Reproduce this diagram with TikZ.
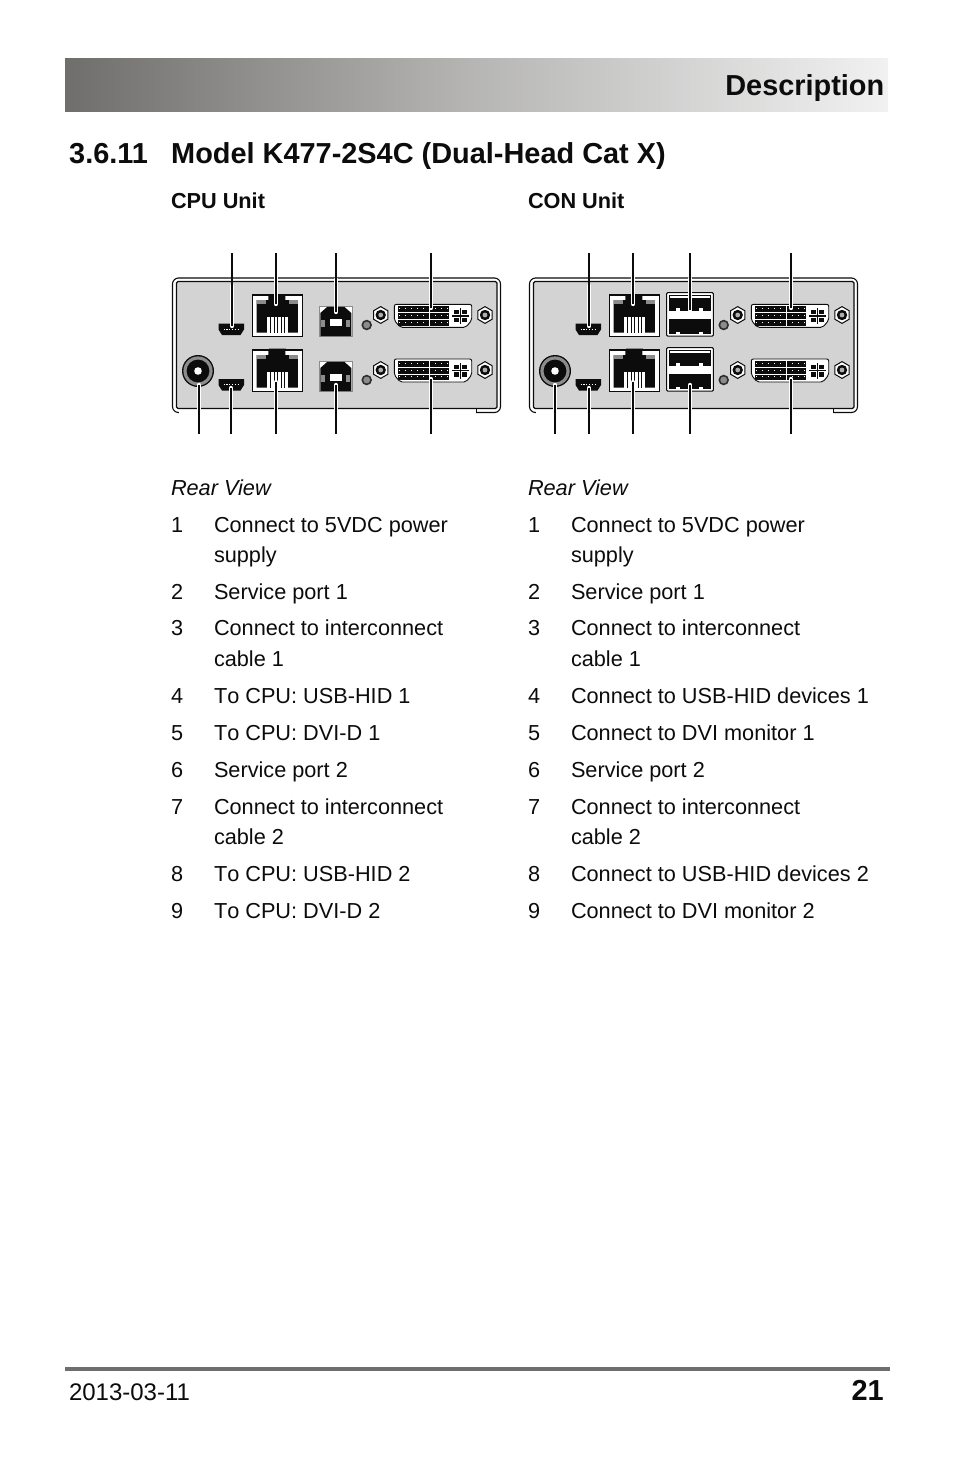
\documentclass[tikz,border=0pt]{standalone}
\usepackage{fontspec}
\setmainfont{Liberation Sans}
\usetikzlibrary{calc}
\definecolor{panelgray}{HTML}{D3D3D3}
\definecolor{midgray}{HTML}{8C8C8C}
\definecolor{ink}{HTML}{0C0C0C}
\definecolor{barleft}{HTML}{6F6E6C}
\definecolor{barright}{HTML}{F1F1F1}
\definecolor{rulegray}{HTML}{6E6E6E}
\newcommand{\bodyfont}{\fontsize{21.7}{26}\selectfont}
\newcommand{\headfont}{\fontsize{28.9}{34}\selectfont\bfseries}
\tikzset{
  txt/.style={anchor=base west,inner sep=0pt,outer sep=0pt,font=\bodyfont,text=ink},
  leader/.style={line width=2.1pt,draw=ink},
  halo/.style={line width=4.4pt,draw=white},
}
\newcommand{\itemrow}[5]{%
  \node[txt] (#1n) at (#2,#4) {#3};
  \node[txt] (#1t) at (#2+43,#4) {#5};}
\newcommand{\screwat}[2]{%
  \draw[line width=1pt,draw=ink,fill=white]
    (#1,#2-8.4) -- (#1+7.2,#2-4.2) -- (#1+7.2,#2+4.2) -- (#1,#2+8.4) -- (#1-7.2,#2+4.2) -- (#1-7.2,#2-4.2) -- cycle;
  \fill[ink] (#1,#2) circle[radius=5.2];
  \fill[midgray!70] (#1,#2) circle[radius=2.4];}
\newcommand{\ledat}[2]{\draw[line width=1.6pt,draw=ink!85,fill=midgray] (#1,#2) circle[radius=4.4];}
\newcommand{\jackat}[2]{%
  \fill[ink] (#1,#2) circle[radius=16];
  \fill[midgray] (#1,#2) circle[radius=14.6];
  \fill[ink] (#1,#2) circle[radius=11.4];
  \fill[white] (#1,#2) circle[radius=3.8];}
\newcommand{\miniat}[2]{% left x, top y
  \fill[ink] (#1,#2+1) -- (#1+25.5,#2+1) -- (#1+25.5,#2+7) -- (#1+22,#2+12.5) -- (#1+3.5,#2+12.5) -- (#1,#2+7) -- cycle;
  \draw[white,line width=1pt,dash pattern=on 1.2pt off 1.6pt] (#1+5,#2+6.5) -- (#1+21,#2+6.5);}
\newcommand{\rjat}[2]{% left x, top y
  \draw[line width=1.1pt,draw=ink,fill=white] (#1,#2) rectangle (#1+50.4,#2+41.5);
  \fill[ink] (#1+4.4,#2+5) -- (#1+16,#2+5) -- (#1+16,#2+1) -- (#1+33,#2+1) -- (#1+33,#2+5) -- (#1+45.6,#2+5)
     -- (#1+45.6,#2+37.5) -- (#1+4.4,#2+37.5) -- cycle;
  \fill[midgray] (#1+4.4,#2+5) rectangle (#1+13.5,#2+9);
  \fill[midgray] (#1+36.5,#2+5) rectangle (#1+45.6,#2+9);
  \fill[white] (#1+14.5,#2+21.5) rectangle (#1+36,#2+37.5);
  \foreach \k in {1,...,5} {\fill[ink] (#1+14.5+\k*3.6-.5,#2+21.5) rectangle ++(1,16);}}
\newcommand{\usbbat}[2]{% left x, top y
  \draw[line width=.8pt,draw=midgray,fill=white] (#1,#2) rectangle (#1+33,#2+30.5);
  \fill[ink] (#1+1,#2+30) -- (#1+1,#2+7) -- (#1+8,#2+.8) -- (#1+25,#2+.8) -- (#1+32,#2+7) -- (#1+32,#2+30) -- cycle;
  \fill[white] (#1+10.5,#2+13) rectangle (#1+23,#2+20);
  \fill[midgray] (#1+2,#2+14) rectangle (#1+6,#2+21);
  \fill[midgray] (#1+27,#2+14) rectangle (#1+31,#2+21);}
\newcommand{\usbaat}[2]{% left x, top y
  \draw[line width=1pt,draw=ink,fill=white,rounded corners=1pt] (#1,#2) rectangle (#1+46.6,#2+43.3);
  \fill[ink] (#1+2,#2+1.8) rectangle (#1+44.6,#2+18);
  \fill[white] (#1+3,#2+3.4) rectangle (#1+43.6,#2+5.2);
  \fill[white] (#1+2,#2+18) rectangle (#1+44.6,#2+26);
  \fill[ink] (#1+2,#2+26) rectangle (#1+44.6,#2+41.6);
  \fill[white] (#1+9.5,#2+15) rectangle (#1+13.5,#2+18);
  \fill[white] (#1+32.5,#2+15) rectangle (#1+36.5,#2+18);
  \fill[white] (#1+9.5,#2+39) rectangle (#1+13.5,#2+41.6);
  \fill[white] (#1+32.5,#2+39) rectangle (#1+36.5,#2+41.6);}
\newcommand{\dviat}[2]{% left x, top y
  \draw[line width=.9pt,draw=ink,fill=white,rounded corners=2pt]
     (#1,#2) -- (#1+77.4,#2) -- (#1+77.4,#2+16) -- (#1+71.5,#2+23) -- (#1+5.9,#2+23) -- (#1,#2+16) -- cycle;
  \foreach \r in {2,9,15.7} {
    \fill[ink] (#1+3.7,#2+\r) rectangle (#1+54.2,#2+\r+5.6);
    \draw[white,line width=.8pt,dash pattern=on 1pt off 5pt] (#1+5,#2+\r+2) -- (#1+54,#2+\r+2);
  }
  \fill[white] (#1+35,#2+2) rectangle (#1+35.9,#2+21.3);
  \fill[ink] (#1+59.5,#2+5.5) rectangle (#1+64.2,#2+9.8);
  \fill[ink] (#1+68,#2+5.5) rectangle (#1+72.7,#2+9.8);
  \fill[ink] (#1+59.5,#2+13.4) rectangle (#1+64.2,#2+17.7);
  \fill[ink] (#1+68,#2+13.4) rectangle (#1+72.7,#2+17.7);
  \fill[ink] (#1+65.4,#2+3.5) rectangle (#1+66.8,#2+19.5);
  \fill[ink] (#1+58,#2+10.9) rectangle (#1+74.5,#2+12.3);}
\newcommand{\panelbase}[1]{% x offset
  \draw[line width=1.1pt,draw=ink,fill=white,rounded corners=6pt]
     (#1+172.5,278) rectangle (#1+500.5,412.5);
  \fill[white] (#1+179,409) rectangle (#1+476,414);
  \draw[line width=1.1pt,draw=ink,fill=panelgray,rounded corners=1.5pt]
     (#1+176.5,281.5) rectangle (#1+497,408.5);
  \draw[line width=.8pt,draw=ink] (#1+476,408.5) -- (#1+476,412.5);
  \jackat{#1+198}{371}
  \miniat{#1+218.5}{322.5}
  \miniat{#1+218.5}{378}
  \rjat{#1+252.3}{295}
  \fill[midgray] (#1+269,348.3) rectangle (#1+285.5,350.5);
  \rjat{#1+252.3}{350}
  \ledat{#1+366.7}{325}
  \ledat{#1+366.7}{380}
  \screwat{#1+380.7}{315}
  \screwat{#1+380.7}{370}
  \screwat{#1+485}{315}
  \screwat{#1+485}{370}
  \dviat{#1+394.3}{304.3}
  \dviat{#1+394.3}{359}}
\newcommand{\leaderline}[4]{% name x, y outer, y tip
  \coordinate (#1a) at (#2,#3);
  \coordinate (#1b) at (#2,#4);
  \draw[halo,line cap=round] ($(#1a)!.45!(#1b)$) -- (#1b);
  \draw[leader] (#1a) -- (#1b);}
\begin{document}
\begin{tikzpicture}[x=1pt,y=-1pt]
\useasboundingbox (0,0) rectangle (954,1475);
\fill[white] (0,0) rectangle (954,1475);
% header
\shade[left color=barleft,right color=barright,middle color=barleft!45!barright] (65,58) rectangle (888,111.6);
\node[anchor=base east,inner sep=0pt,font=\headfont,text=ink] (desc) at (884.5,95.5) {Description};
\node[anchor=base west,inner sep=0pt,font=\headfont,text=ink] (secnum) at (69,163) {3.6.11};
\node[anchor=base west,inner sep=0pt,font=\headfont,text=ink] (sectitle) at (171,163) {Model K477-2S4C (Dual-Head Cat X)};
\node[txt,font=\bodyfont\bfseries] (cpu) at (171,208) {CPU Unit};
\node[txt,font=\bodyfont\bfseries] (con) at (528,208) {CON Unit};
% panels
\panelbase{0}
\panelbase{357}
% CPU specific
\usbbat{319.3}{306}
\usbbat{319.3}{361}
% CON specific
\usbaat{666.7}{292.7}
\usbaat{666.7}{347.7}
% leaders CPU
\leaderline{ca}{232}{253}{326}
\leaderline{cb}{276}{253}{304}
\leaderline{cc}{336}{253}{312}
\leaderline{cd}{431}{253}{308}
\leaderline{ce}{199}{434}{385}
\leaderline{cf}{231}{434}{388}
\leaderline{cg}{276}{434}{382}
\leaderline{ch}{336}{434}{385}
\leaderline{ci}{431}{434}{379}
% leaders CON
\leaderline{da}{589}{253}{326}
\leaderline{db}{633}{253}{304}
\leaderline{dc}{690}{253}{310}
\leaderline{dd}{791}{253}{308}
\leaderline{de}{555}{434}{385}
\leaderline{df}{589}{434}{388}
\leaderline{dg}{633}{434}{382}
\leaderline{dh}{690}{434}{385}
\leaderline{di}{791}{434}{379}
% lists
\node[txt,font=\bodyfont\itshape] (rva) at (171,495) {Rear View};
\node[txt,font=\bodyfont\itshape] (rvb) at (528,495) {Rear View};
\itemrow{a1}{171}{1}{532}{Connect to 5VDC power}
\node[txt] (a1c) at (214,562) {supply};
\itemrow{a2}{171}{2}{599}{Service port 1}
\itemrow{a3}{171}{3}{635}{Connect to interconnect}
\node[txt] (a3c) at (214,666) {cable 1};
\itemrow{a4}{171}{4}{703}{T\kern0pt o CPU: USB-HID 1}
\itemrow{a5}{171}{5}{740}{T\kern0pt o CPU: DVI-D 1}
\itemrow{a6}{171}{6}{777}{Service port 2}
\itemrow{a7}{171}{7}{814}{Connect to interconnect}
\node[txt] (a7c) at (214,844) {cable 2};
\itemrow{a8}{171}{8}{881}{T\kern0pt o CPU: USB-HID 2}
\itemrow{a9}{171}{9}{918}{T\kern0pt o CPU: DVI-D 2}
\itemrow{b1}{528}{1}{532}{Connect to 5VDC power}
\node[txt] (b1c) at (571,562) {supply};
\itemrow{b2}{528}{2}{599}{Service port 1}
\itemrow{b3}{528}{3}{635}{Connect to interconnect}
\node[txt] (b3c) at (571,666) {cable 1};
\itemrow{b4}{528}{4}{703}{Connect to USB-HID devices 1}
\itemrow{b5}{528}{5}{740}{Connect to DVI monitor 1}
\itemrow{b6}{528}{6}{777}{Service port 2}
\itemrow{b7}{528}{7}{814}{Connect to interconnect}
\node[txt] (b7c) at (571,844) {cable 2};
\itemrow{b8}{528}{8}{881}{Connect to USB-HID devices 2}
\itemrow{b9}{528}{9}{918}{Connect to DVI monitor 2}
% footer
\fill[rulegray] (65,1367) rectangle (890,1371);
\node[txt,font=\fontsize{24}{28}\selectfont] (date) at (69,1400) {2013-03-11};
\node[anchor=base east,inner sep=0pt,font=\headfont,text=ink] (page) at (884,1400) {21};
\end{tikzpicture}
\end{document}
